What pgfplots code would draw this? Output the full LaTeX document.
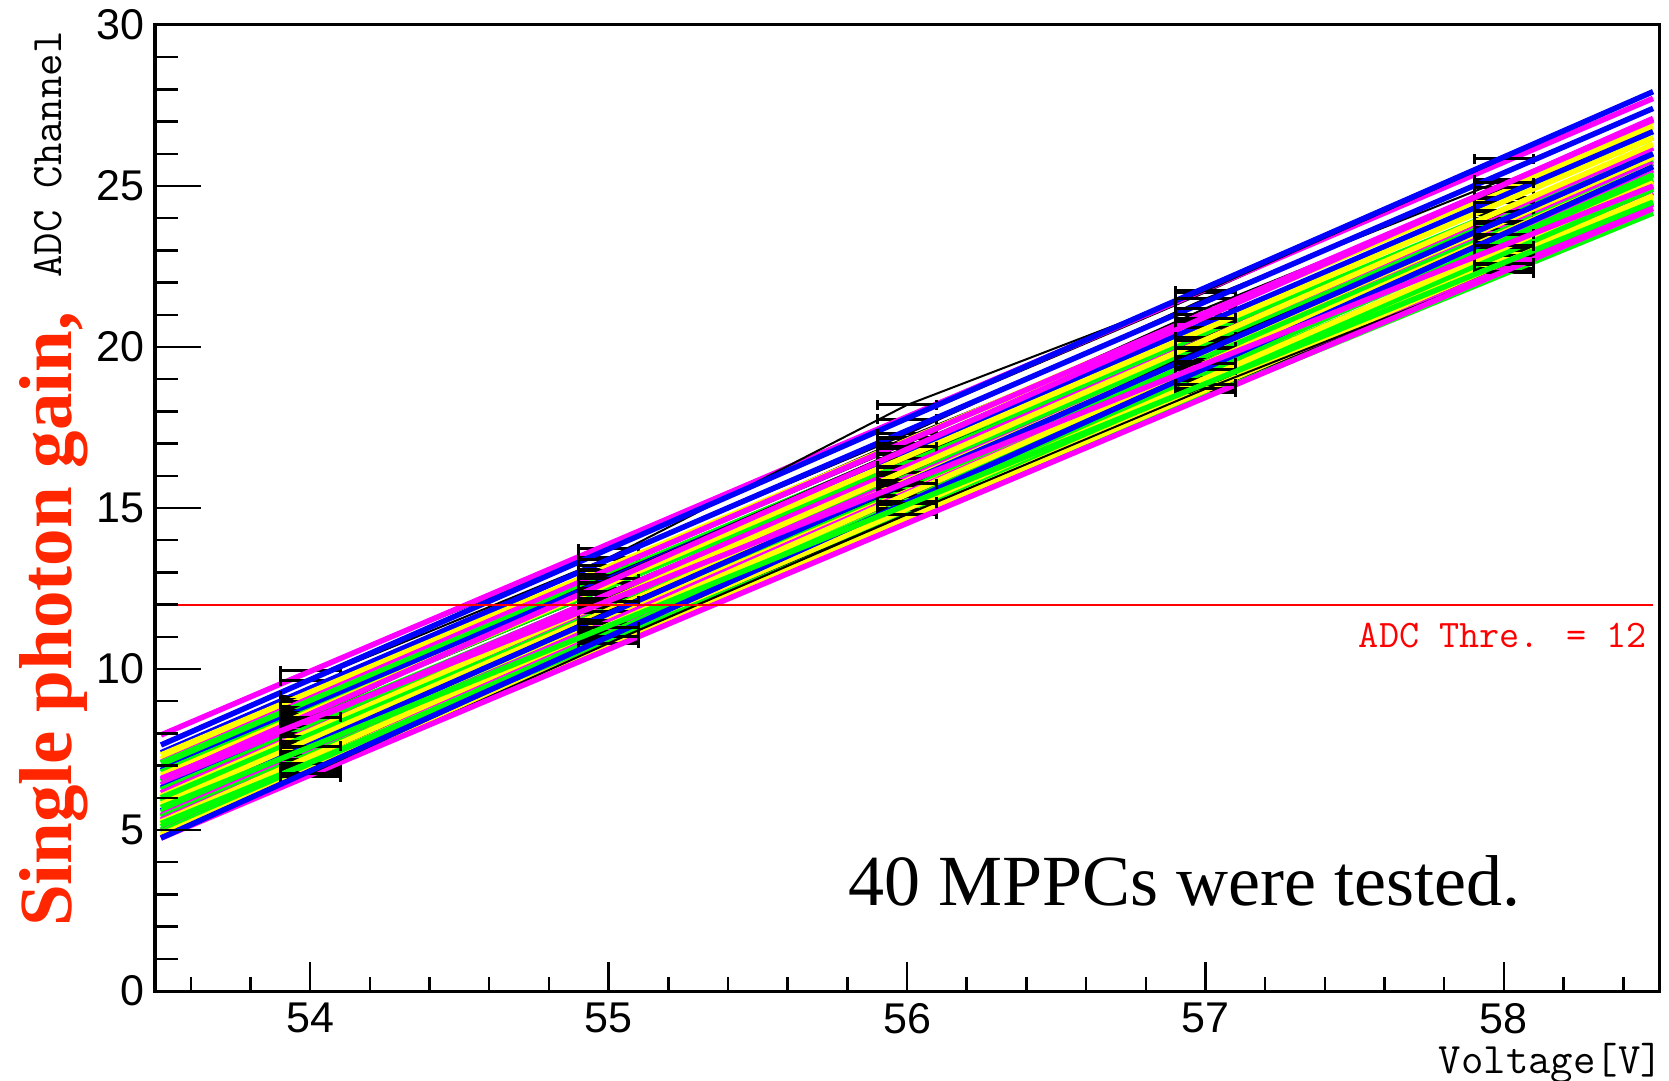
\documentclass[border=0pt]{standalone}
\usepackage{pgfplots}
\pgfplotsset{compat=1.18}
\usepackage{fontspec}
\setmainfont{Liberation Serif}
\newfontfamily\helv{Liberation Sans}
\newcommand\cour{\ttfamily}
\definecolor{cB}{RGB}{0,0,255}
\definecolor{cM}{RGB}{255,0,255}
\definecolor{cY}{RGB}{255,255,0}
\definecolor{cG}{RGB}{0,255,0}
\definecolor{labred}{RGB}{255,38,0}
\definecolor{thr}{RGB}{255,0,0}
\pgfplotsset{
  fB/.style={cB, line width=5.5pt},
  fM/.style={cM, line width=5.5pt},
  fY/.style={cY, line width=5.5pt},
  fG/.style={cG, line width=5.5pt},
  dat/.style={black, line width=2pt, mark=none,
    error bars/.cd, x dir=both, x fixed=0.1,
    error bar style={line width=3pt, black},
    error mark options={rotate=90, mark size=5pt, line width=3pt, black}},
  base/.style={
    scale only axis, width=1504pt, height=966pt,
    at={(0pt,0pt)}, anchor=south west,
    xmin=53.48, xmax=58.52, ymin=0, ymax=30,
    axis line style={line width=3pt, black},
    tick style={line width=2.5pt, black},
    tick align=inside,
    xtick pos=bottom, ytick pos=left,
    ticklabel style={font=\helv\fontsize{43}{43}\selectfont},
    /pgf/number format/assume math mode=true,
  },
}
\begin{document}
\begin{tikzpicture}
\path[use as bounding box] (-155pt,-89pt) rectangle (1514pt,991pt);
\begin{axis}[base,
  xtick={54,55,56,57,58}, minor x tick num=4,
  extra x ticks={53.6,53.8,58.2,58.4}, extra x tick labels={},
  extra x tick style={major tick length=14pt},
  major tick length=29pt, minor tick length=14pt,
  ytick=\empty,
  xticklabel style={anchor=north, inner sep=0pt, yshift=-12pt},
]
% MPPC 1
\addplot[dat] coordinates {(54,9.95) (55,13.73) (56,17.75) (57,21.7) (58,25.85)};
\addplot[fM] coordinates {(53.5,7.95) (58.5,27.72)};
% 2
\addplot[dat] coordinates {(54,9.64) (55,13.45) (56,18.2) (57,21.75) (58,25.85)};
\addplot[fB] coordinates {(53.5,7.64) (58.5,27.93)};
% 3
\addplot[dat] coordinates {(54,9.15) (55,13.4) (56,17.3) (57,21.5) (58,25.2)};
\addplot[fB] coordinates {(53.5,7.4) (58.5,27.41)};
% 4
\addplot[dat] coordinates {(54,9.1) (55,13.2) (56,17.15) (57,21.0) (58,24.95)};
\addplot[fY] coordinates {(53.5,7.33) (58.5,26.84)};
% 5
\addplot[dat] coordinates {(54,9.05) (55,13.1) (56,17.2) (57,21.0) (58,25.1)};
\addplot[fY] coordinates {(53.5,7.2) (58.5,27.0)};
% 6
\addplot[dat] coordinates {(54,9.0) (55,13.05) (56,17.0) (57,21.2) (58,24.95)};
\addplot[fM] coordinates {(53.5,7.1) (58.5,27.05)};
% 7
\addplot[dat] coordinates {(54,8.85) (55,12.95) (56,16.85) (57,20.6) (58,24.6)};
\addplot[fG] coordinates {(53.5,7.08) (58.5,26.5)};
% 8
\addplot[dat] coordinates {(54,8.8) (55,12.65) (56,16.65) (57,20.45) (58,24.25)};
\addplot[fG] coordinates {(53.5,6.95) (58.5,26.2)};
% 9
\addplot[dat] coordinates {(54,8.7) (55,12.9) (56,16.7) (57,20.8) (58,24.65)};
\addplot[fB] coordinates {(53.5,6.85) (58.5,26.69)};
% 10
\addplot[dat] coordinates {(54,8.65) (55,12.5) (56,16.5) (57,20.2) (58,24.1)};
\addplot[fG] coordinates {(53.5,6.8) (58.5,26.0)};
% 11
\addplot[dat] coordinates {(54,8.6) (55,12.7) (56,16.55) (57,20.6) (58,24.5)};
\addplot[fY] coordinates {(53.5,6.7) (58.5,26.5)};
% 12
\addplot[dat] coordinates {(54,8.5) (55,12.8) (56,16.9) (57,20.9) (58,25.1)};
\addplot[fM] coordinates {(53.5,6.55) (58.5,27.1)};
% 13
\addplot[dat] coordinates {(54,8.4) (55,12.3) (56,16.25) (57,20.0) (58,24.0)};
\addplot[fG] coordinates {(53.5,6.5) (58.5,25.9)};
% 14
\addplot[dat] coordinates {(54,8.3) (55,12.4) (56,16.3) (57,20.2) (58,24.25)};
\addplot[fM] coordinates {(53.5,6.4) (58.5,26.18)};
% 15
\addplot[dat] coordinates {(54,8.2) (55,11.85) (56,15.75) (57,19.5) (58,23.2)};
\addplot[fB] coordinates {(53.5,6.3) (58.5,25.1)};
% 16
\addplot[dat] coordinates {(54,8.1) (55,12.2) (56,16.0) (57,19.9) (58,23.9)};
\addplot[fG] coordinates {(53.5,6.25) (58.5,25.8)};
% 17
\addplot[dat] coordinates {(54,8.0) (55,12.05) (56,15.9) (57,19.9) (58,23.7)};
\addplot[fM] coordinates {(53.5,6.15) (58.5,25.7)};
% 18
\addplot[dat] coordinates {(54,7.95) (55,12.2) (56,16.1) (57,20.3) (58,24.2)};
\addplot[fY] coordinates {(53.5,6.05) (58.5,26.3)};
% 19
\addplot[dat] coordinates {(54,7.9) (55,11.8) (56,15.85) (57,19.7) (58,23.65)};
\addplot[fG] coordinates {(53.5,6.0) (58.5,25.6)};
% 20
\addplot[dat] coordinates {(54,7.75) (55,11.75) (56,15.6) (57,19.6) (58,23.4)};
\addplot[fG] coordinates {(53.5,5.87) (58.5,25.4)};
% 21
\addplot[dat] coordinates {(54,7.7) (55,11.9) (56,15.8) (57,19.95) (58,23.85)};
\addplot[fY] coordinates {(53.5,5.8) (58.5,25.9)};
% 22
\addplot[dat] coordinates {(54,7.6) (55,11.55) (56,15.55) (57,19.4) (58,23.35)};
\addplot[fY] coordinates {(53.5,5.71) (58.5,25.3)};
% 23
\addplot[dat] coordinates {(54,7.55) (55,11.8) (56,15.7) (57,20.0) (58,23.9)};
\addplot[fB] coordinates {(53.5,5.6) (58.5,26.0)};
% 24
\addplot[dat] coordinates {(54,7.45) (55,11.5) (56,15.35) (57,19.3) (58,23.25)};
\addplot[fG] coordinates {(53.5,5.55) (58.5,25.2)};
% 25
\addplot[dat] coordinates {(54,7.4) (55,11.5) (56,15.4) (57,19.55) (58,23.45)};
\addplot[fM] coordinates {(53.5,5.45) (58.5,25.5)};
% 26
\addplot[dat] coordinates {(54,7.3) (55,11.25) (56,15.2) (57,19.15) (58,22.95)};
\addplot[fG] coordinates {(53.5,5.4) (58.5,24.97)};
% 27
\addplot[dat] coordinates {(54,7.2) (55,11.15) (56,15.1) (57,18.9) (58,22.9)};
\addplot[fM] coordinates {(53.5,5.31) (58.5,24.8)};
% 28
\addplot[dat] coordinates {(54,7.2) (55,11.4) (56,15.35) (57,19.55) (58,23.5)};
\addplot[fY] coordinates {(53.5,5.25) (58.5,25.6)};
% 29
\addplot[dat] coordinates {(54,7.05) (55,11.0) (56,14.95) (57,18.8) (58,22.75)};
\addplot[fY] coordinates {(53.5,5.16) (58.5,24.7)};
% 30
\addplot[dat] coordinates {(54,7.0) (55,11.1) (56,15.0) (57,19.05) (58,23.0)};
\addplot[fG] coordinates {(53.5,5.1) (58.5,25.0)};
% 31
\addplot[dat] coordinates {(54,6.95) (55,11.15) (56,15.1) (57,19.3) (58,23.25)};
\addplot[fG] coordinates {(53.5,5.0) (58.5,25.35)};
% 32
\addplot[dat] coordinates {(54,6.85) (55,10.85) (56,14.8) (57,18.6) (58,22.45)};
\addplot[fM] coordinates {(53.5,4.95) (58.5,24.44)};
% 33
\addplot[dat] coordinates {(54,6.9) (55,10.9) (56,14.9) (57,18.95) (58,22.85)};
\addplot[fG] coordinates {(53.5,4.94) (58.5,24.9)};
% 34
\addplot[dat] coordinates {(54,6.8) (55,10.95) (56,14.95) (57,19.0) (58,23.1)};
\addplot[fY] coordinates {(53.5,4.85) (58.5,25.1)};
% 35
\addplot[dat] coordinates {(54,7.05) (55,10.9) (56,14.8) (57,18.6) (58,22.3)};
\addplot[fG] coordinates {(53.5,5.2) (58.5,24.16)};
% 36
\addplot[dat] coordinates {(54,6.7) (55,10.8) (56,14.8) (57,18.65) (58,22.55)};
\addplot[fY] coordinates {(53.5,4.78) (58.5,24.6)};
% 37
\addplot[dat] coordinates {(54,6.65) (55,10.8) (56,14.8) (57,18.7) (58,22.35)};
\addplot[fM] coordinates {(53.5,4.75) (58.5,24.3)};
% 38
\addplot[dat] coordinates {(54,6.75) (55,11.0) (56,15.2) (57,19.3) (58,23.5)};
\addplot[fB] coordinates {(53.5,4.75) (58.5,25.6)};
% 39
\addplot[dat] coordinates {(54,7.6) (55,11.3) (56,15.15) (57,18.85) (58,22.6)};
\addplot[fG] coordinates {(53.5,5.7) (58.5,24.5)};
% 40
\addplot[dat] coordinates {(54,8.5) (55,12.1) (56,15.75) (57,19.5) (58,23.15)};
\addplot[fM] coordinates {(53.5,6.6) (58.5,25.0)};
% threshold
\addplot[thr, line width=2pt] coordinates {(53.48,12) (58.5,12)};
\end{axis}
\begin{axis}[base,
  xtick=\empty,
  ytick={0,5,10,15,20,25,30}, minor y tick num=4,
  major tick length=46pt, minor tick length=23pt,
  yticklabel style={anchor=east, inner sep=0pt, xshift=-10pt},
]
\end{axis}
\node[anchor=base west, rotate=90, inner sep=0pt, text=labred,
  font=\bfseries\fontsize{75}{75}\selectfont] at (-83pt,64pt) {Single photon gain,};
\node[anchor=base west, rotate=90, inner sep=0pt,
  font=\cour\fontsize{43.5}{43.5}\selectfont] at (-93pt,713pt) {ADC Channel};
\node[anchor=base east, inner sep=0pt,
  font=\cour\fontsize{43.5}{43.5}\selectfont] at (1508pt,-82pt) {Voltage[V]};
\node[anchor=base east, inner sep=0pt, text=thr,
  font=\cour\fontsize{39}{39}\selectfont] at (1492pt,344pt) {ADC Thre. = 12};
\node[anchor=base west, inner sep=0pt,
  font=\fontsize{72}{72}\selectfont] at (693pt,86pt) {40 MPPCs were tested.};
\end{tikzpicture}
\end{document}
